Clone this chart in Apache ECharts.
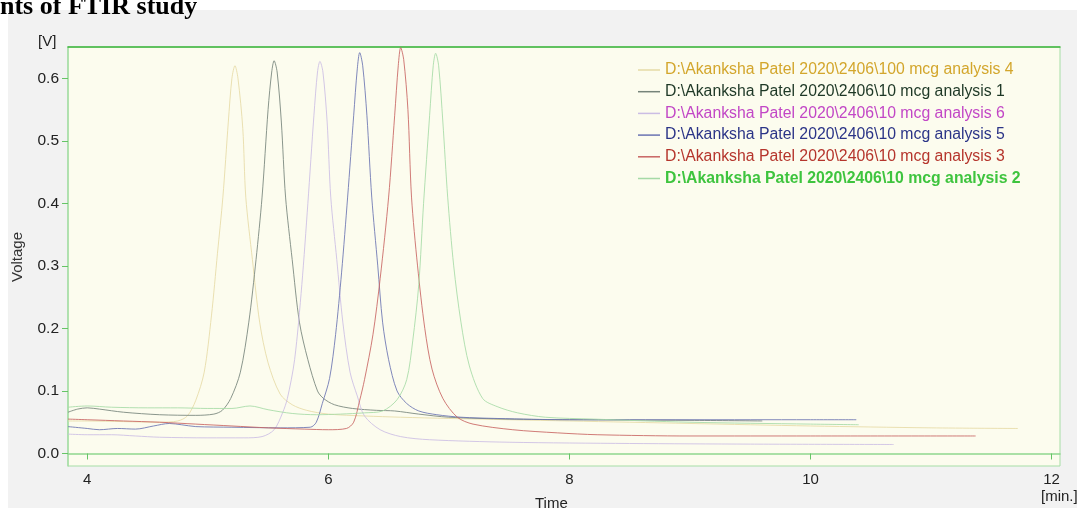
<!DOCTYPE html>
<html>
<head>
<meta charset="utf-8">
<script src="https://cdn.jsdelivr.net/npm/echarts@6/dist/echarts.min.js"></script>
<style>
  html, body { margin: 0; padding: 0; background: #fff; }
  #chart { width: 1077px; height: 508px; }
</style>
</head>
<body>
<div id="chart"></div>
<script>
  // chromatogram traces, [time in min, voltage in V]
  const analysis4 = [[3.84,0.052],[4.0,0.052],[4.3,0.051],[4.6,0.050],[4.75,0.052],[4.83,0.060],[4.90,0.085],[4.97,0.13],[5.03,0.22],[5.08,0.32],[5.125,0.41],[5.17,0.53],[5.20,0.60],[5.225,0.620],[5.25,0.60],[5.29,0.52],[5.315,0.41],[5.37,0.31],[5.43,0.21],[5.50,0.145],[5.60,0.095],[5.70,0.078],[5.82,0.069],[6.0,0.063],[6.3,0.060],[6.6,0.058],[7.0,0.056],[8.0,0.052],[9.0,0.048],[10.0,0.044],[11.0,0.041],[11.72,0.040]];
  const analysis1 = [[3.84,0.066],[3.92,0.071],[4.0,0.073],[4.1,0.071],[4.3,0.066],[4.6,0.062],[4.9,0.061],[5.05,0.063],[5.12,0.069],[5.19,0.088],[5.27,0.13],[5.34,0.21],[5.40,0.31],[5.45,0.41],[5.50,0.55],[5.53,0.61],[5.55,0.628],[5.575,0.61],[5.61,0.53],[5.645,0.41],[5.70,0.31],[5.76,0.21],[5.83,0.15],[5.91,0.10],[5.96,0.088],[6.05,0.078],[6.2,0.072],[6.4,0.069],[6.55,0.068],[6.75,0.063],[7.0,0.058],[7.5,0.055],[8.0,0.054],[9.0,0.053],[9.6,0.052]];
  const analysis6 = [[3.84,0.031],[4.0,0.030],[4.2,0.030],[4.4,0.028],[4.6,0.026],[5.0,0.025],[5.3,0.025],[5.45,0.027],[5.55,0.038],[5.62,0.065],[5.66,0.088],[5.72,0.15],[5.78,0.27],[5.83,0.40],[5.88,0.54],[5.91,0.61],[5.93,0.627],[5.955,0.61],[5.99,0.53],[6.02,0.41],[6.07,0.31],[6.12,0.21],[6.18,0.13],[6.24,0.092],[6.30,0.060],[6.43,0.038],[6.6,0.027],[6.84,0.022],[7.5,0.018],[8.5,0.016],[9.5,0.015],[10.69,0.0144]];
  const analysis5 = [[3.84,0.043],[4.0,0.040],[4.1,0.038],[4.25,0.040],[4.4,0.039],[4.55,0.044],[4.68,0.048],[4.78,0.046],[4.9,0.043],[5.2,0.042],[5.6,0.041],[5.85,0.042],[5.90,0.050],[5.95,0.080],[6.01,0.12],[6.06,0.19],[6.11,0.29],[6.16,0.41],[6.21,0.54],[6.24,0.615],[6.26,0.641],[6.285,0.62],[6.32,0.54],[6.36,0.41],[6.41,0.30],[6.45,0.21],[6.50,0.15],[6.57,0.10],[6.65,0.08],[6.75,0.068],[6.9,0.062],[7.1,0.058],[7.4,0.056],[8.0,0.054],[9.0,0.054],[10.0,0.054],[10.38,0.054]];
  const analysis3 = [[3.84,0.055],[4.0,0.054],[4.3,0.052],[4.6,0.050],[4.9,0.047],[5.2,0.044],[5.5,0.041],[5.8,0.039],[6.0,0.038],[6.15,0.040],[6.21,0.050],[6.26,0.085],[6.30,0.118],[6.37,0.19],[6.43,0.28],[6.50,0.41],[6.55,0.54],[6.58,0.62],[6.60,0.649],[6.625,0.63],[6.66,0.55],[6.69,0.41],[6.74,0.30],[6.80,0.20],[6.86,0.135],[6.95,0.088],[7.07,0.058],[7.2,0.047],[7.53,0.038],[7.9,0.033],[8.23,0.030],[9.0,0.028],[10.0,0.028],[11.37,0.028]];
  const analysis2 = [[3.84,0.074],[4.0,0.076],[4.2,0.074],[4.5,0.073],[4.75,0.073],[5.0,0.072],[5.2,0.072],[5.35,0.076],[5.5,0.070],[5.7,0.064],[5.9,0.062],[6.1,0.063],[6.3,0.065],[6.45,0.068],[6.57,0.086],[6.65,0.118],[6.70,0.18],[6.75,0.27],[6.79,0.40],[6.84,0.54],[6.87,0.62],[6.89,0.640],[6.915,0.62],[6.95,0.53],[6.99,0.41],[7.04,0.30],[7.10,0.21],[7.17,0.14],[7.28,0.088],[7.4,0.075],[7.57,0.065],[7.8,0.058],[8.2,0.055],[9.0,0.050],[10.0,0.047],[10.4,0.046]];

  const seriesNames = [
    'D:\\Akanksha Patel 2020\\2406\\100 mcg analysis 4',
    'D:\\Akanksha Patel 2020\\2406\\10 mcg analysis 1',
    'D:\\Akanksha Patel 2020\\2406\\10 mcg analysis 6',
    'D:\\Akanksha Patel 2020\\2406\\10 mcg analysis 5',
    'D:\\Akanksha Patel 2020\\2406\\10 mcg analysis 3',
    'D:\\Akanksha Patel 2020\\2406\\10 mcg analysis 2'
  ];
  const seriesData = [analysis4, analysis1, analysis6, analysis5, analysis3, analysis2];
  const yTicks = [0, 0.1, 0.2, 0.3, 0.4, 0.5, 0.6];
  const xTicks = [4, 6, 8, 10, 12];

  const lineColors = ['#e6dba6', '#76847a', '#cbbde4', '#6a73b2', '#c86462', '#a6daa6'];
  const textColors = ['#d3a62c', '#1e3826', '#c247c6', '#2b3487', '#b5352c', '#3ec43e'];

  let myChart = echarts.init(document.getElementById('chart'));

  myChart.setOption({
    backgroundColor: '#fff',
    animation: false,
    graphic: [
      { type: 'rect', z: -10, shape: { x: 8, y: 10, width: 1077, height: 510 }, style: { fill: '#f2f2f2' } },
      { type: 'text', left: 0, top: -6, style: { text: 'nts of FTIR study', font: 'bold 26px "Liberation Serif"', fill: '#000' } },
      { type: 'text', left: 38, top: 34, style: { text: '[V]', font: '15px "Liberation Sans"', fill: '#222' } },
      { type: 'text', left: 1041, top: 489, style: { text: '[min.]', font: '15px "Liberation Sans"', fill: '#222' } },
      { type: 'text', left: 535, top: 496, style: { text: 'Time', font: '15px "Liberation Sans"', fill: '#222' } },
      { type: 'text', left: 10, top: 232, rotation: Math.PI / 2, style: { text: 'Voltage', font: '15px "Liberation Sans"', fill: '#333' } }
    ],
    legend: {
      orient: 'vertical',
      left: 633,
      top: 57,
      itemWidth: 22,
      itemHeight: 1.5,
      itemGap: 5.7,
      icon: 'rect',
      textStyle: { fontFamily: 'Liberation Sans', fontSize: 15.8, lineHeight: 16 },
      data: seriesNames.map((n, i) => ({
        name: n,
        textStyle: { color: textColors[i], fontWeight: i === 5 ? 'bold' : 'normal' }
      }))
    },
    grid: {
      left: 68, right: 17, top: 47, bottom: 42,
      show: true,
      backgroundColor: '#fcfcee',
      borderColor: '#a6dea6',
      borderWidth: 1
    },
    xAxis: [{
      type: 'value',
      min: 3.84,
      max: 12.07,
      splitLine: { show: false },
      axisLine: { lineStyle: { color: '#8fd68f', width: 1.5 } },
      axisTick: { length: 6, lineStyle: { color: '#66c466' }, customValues: xTicks },
      axisLabel: {
        customValues: xTicks,
        margin: 6,
        color: '#222',
        fontFamily: 'Liberation Sans',
        fontSize: 15
      }
    }, {
      type: 'value',
      position: 'top',
      min: 3.84,
      max: 12.07,
      splitLine: { show: false },
      axisTick: { show: false },
      axisLabel: { show: false },
      axisLine: { show: true, lineStyle: { color: '#3cb43c', width: 1.5 } }
    }],
    yAxis: {
      type: 'value',
      min: -0.02,
      max: 0.65,
      splitLine: { show: false },
      axisLine: { show: true, lineStyle: { color: '#a6dea6', width: 1.5 } },
      axisTick: { show: true, length: 6, lineStyle: { color: '#66c466' }, customValues: yTicks },
      axisLabel: {
        customValues: yTicks,
        margin: 9,
        color: '#222',
        fontFamily: 'Liberation Sans',
        fontSize: 15.5,
        formatter: v => v.toFixed(1)
      }
    },
    series: seriesData.map((d, i) => ({
      name: seriesNames[i],
      type: 'line',
      data: d,
      smooth: 0.3,
      showSymbol: false,
      color: lineColors[i],
      lineStyle: { width: 1, color: lineColors[i], opacity: 0.85 }
    }))
  });
</script>
</body>
</html>
